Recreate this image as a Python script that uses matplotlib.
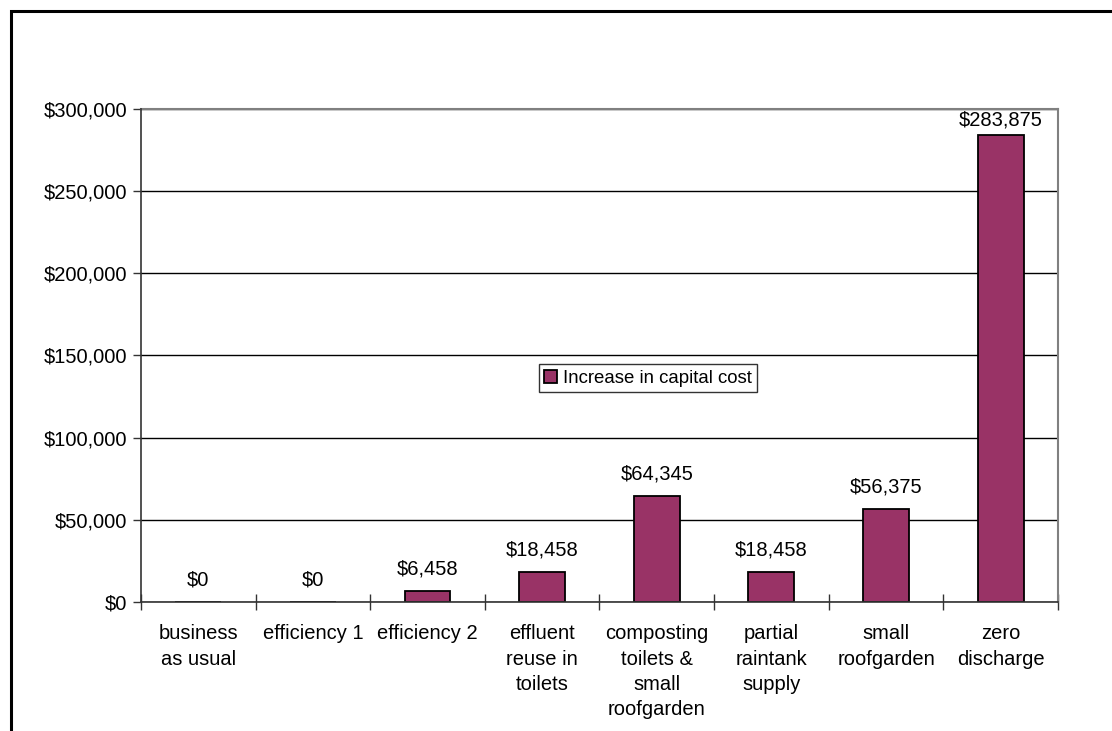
import matplotlib.pyplot as plt
from matplotlib.patches import Rectangle
from matplotlib.ticker import FuncFormatter, FixedLocator

plt.rcParams['font.family'] = ['Liberation Sans', 'DejaVu Sans']

scenarios = [
    'business\nas usual',
    'efficiency 1',
    'efficiency 2',
    'effluent\nreuse in\ntoilets',
    'composting\ntoilets &\nsmall\nroofgarden',
    'partial\nraintank\nsupply',
    'small\nroofgarden',
    'zero\ndischarge',
]
capital_cost = [0, 0, 6458, 18458, 64345, 18458, 56375, 283875]
series_name = 'Increase in capital cost'

BAR_COLOR = '#993366'
Y_MAX = 300000


def dollars(v, _pos=None):
    return f'${v:,.0f}'


fig = plt.figure(figsize=(11.12, 7.31), dpi=100)
ax = fig.add_axes([0.1268, 0.1765, 0.8246, 0.6744])

x = list(range(len(scenarios)))
# bars sit under the spines so zero-height bars vanish into the axis line
bars = ax.bar(x, capital_cost, width=0.4, color=BAR_COLOR, edgecolor='black',
              linewidth=1.3, label=series_name, zorder=2)

for xi, v in zip(x, capital_cost):
    # labels near the top are pulled down so they stay inside the plot area
    gap = 4 if v > 0.9 * Y_MAX else 9
    ax.annotate(dollars(v), (xi, v), xytext=(0, gap), textcoords='offset points',
                ha='center', va='bottom', fontsize=14.5)

ax.set_xlim(-0.5, len(scenarios) - 0.5)
ax.set_ylim(0, Y_MAX)
ax.set_yticks(range(0, Y_MAX + 1, 50000))
ax.yaxis.set_major_formatter(FuncFormatter(dollars))
ax.yaxis.grid(True, color='black', linewidth=1.0, zorder=0)
ax.set_axisbelow(True)

# category labels sit between boundary ticks
ax.set_xticks(x)
ax.set_xticklabels(scenarios, fontsize=14.5, va='top', linespacing=1.42)
ax.tick_params(axis='x', which='major', length=0, pad=16)
ax.xaxis.set_minor_locator(FixedLocator([i - 0.5 for i in range(len(scenarios) + 1)]))
ax.tick_params(axis='x', which='minor', length=11, direction='inout', width=1, color='#333333')
ax.tick_params(axis='y', labelsize=14.5, length=6, width=1, color='#333333', pad=4)

for side in ('top', 'right'):
    ax.spines[side].set_color('#808080')
    ax.spines[side].set_linewidth(1.5)
for side in ('left', 'bottom'):
    ax.spines[side].set_color('#333333')
    ax.spines[side].set_linewidth(1.2)
    ax.spines[side].set_zorder(3)

leg = ax.legend(loc='center', bbox_to_anchor=(0.553, 0.454), fontsize=13.4,
                frameon=True, fancybox=False, handlelength=0.7, handleheight=0.7,
                handletextpad=0.3, borderpad=0.3, borderaxespad=0)
leg.get_frame().set_edgecolor('black')
leg.get_frame().set_linewidth(1.0)

# outer chart frame (only top and left edges fall inside the canvas)
fig.patches.append(Rectangle((11 / 1112, -0.1), 1.2, 1.1 - 11 / 731,
                             transform=fig.transFigure, fill=False,
                             edgecolor='black', linewidth=2.2))

fig.savefig('out.png', dpi=100)
